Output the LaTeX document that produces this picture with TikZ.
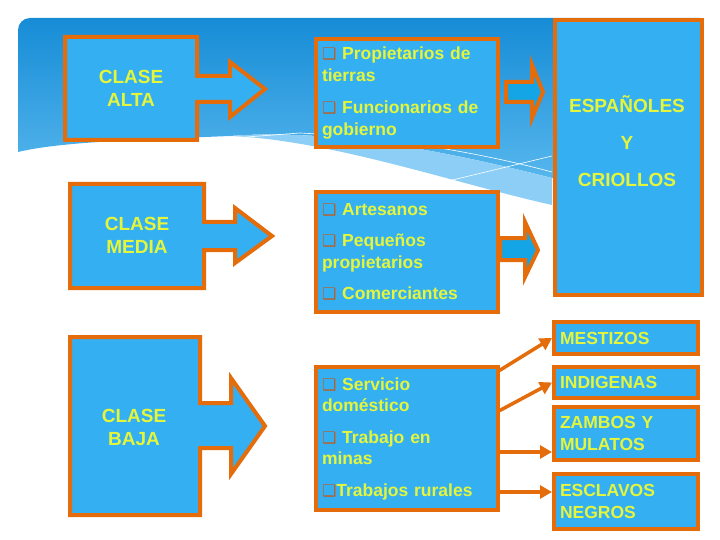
\documentclass[tikz,border=0pt]{standalone}
\usepackage{fontspec}
\setmainfont{Liberation Sans}
\newfontfamily\dvfont{DejaVu Sans}
\usetikzlibrary{arrows.meta,calc}
\definecolor{boxblue}{RGB}{52,176,242}
\definecolor{arrblue}{RGB}{20,165,230}
\definecolor{orangec}{RGB}{228,108,10}
\definecolor{txtc}{RGB}{228,245,60}
\definecolor{bulc}{RGB}{185,95,40}
\definecolor{bgtop}{RGB}{22,140,214}
\definecolor{bgbot}{RGB}{95,188,240}
\definecolor{bglight}{RGB}{140,206,245}
\newcommand{\bul}{{\dvfont\fontsize{16}{16}\selectfont\textcolor{bulc}{❑}}}
\begin{document}
\begin{tikzpicture}[x=1pt,y=-1pt,
  box/.style={draw=orangec, line width=4pt, fill=boxblue},
  outl/.style={draw=orangec, line width=4pt, fill=boxblue, line join=miter},
  lbl/.style={text=txtc, font=\bfseries\fontsize{19}{23}\selectfont, align=center},
  items/.style={box, text=txtc, font=\bfseries\fontsize{17.5}{21.5}\selectfont, align=left, text width=170pt, inner xsep=6pt, inner ysep=0pt, anchor=north west},
  rbox/.style={box, text=txtc, font=\bfseries\fontsize{17.5}{21.5}\selectfont, align=left, text width=132pt, inner xsep=6pt, inner ysep=0pt, minimum width=144pt, anchor=north west},
  conn/.style={draw=orangec, line width=3.5pt, -{Triangle[length=12pt,width=13pt]}}]
\useasboundingbox (0,0) rectangle (720,540);
% background
\shade[top color=bgtop, bottom color=bgbot]
  (18,152) [rounded corners=12pt] -- (18,18) [sharp corners] -- (700,18) -- (700,200) -- (552,178)
  .. controls (450,152) and (330,128) .. (230,136)
  .. controls (130,140) and (60,142) .. (18,152) -- cycle;
\fill[bglight] (230,136) .. controls (330,140) and (450,182) .. (552,205) -- (552,178)
  .. controls (450,152) and (330,128) .. (230,136) -- cycle;
\draw[white, line width=0.6pt] (233,138) -- (300,133) .. controls (380,137) and (470,150) .. (552,172);
\draw[white, line width=0.6pt] (440,183) -- (552,156);
% CLASE ALTA
\path[outl] (65,37) -- (197,37) -- (197,76) -- (230,76) -- (230,62) -- (265,89) -- (230,117) -- (230,102) -- (197,102) -- (197,140) -- (65,140) -- cycle;
\node[lbl] (alta) at (131,88) {CLASE\\ALTA};
% CLASE MEDIA
\path[outl] (70,184) -- (204,184) -- (204,222) -- (235,222) -- (235,208) -- (272,236) -- (235,263) -- (235,250) -- (204,250) -- (204,288) -- (70,288) -- cycle;
\node[lbl] (media) at (137,235) {CLASE\\MEDIA};
% CLASE BAJA
\path[outl] (70,337) -- (200,337) -- (200,403) -- (231,403) -- (231,378) -- (265,426) -- (231,474) -- (231,448) -- (200,448) -- (200,515) -- (70,515) -- cycle;
\node[lbl] (baja) at (134,427) {CLASE\\BAJA};
% item boxes
\node[items, minimum height=108pt] (b1) at (314,37) {\bul\ Propietarios de\\tierras\\[11pt]\bul\ Funcionarios de\\gobierno};
\node[items, minimum height=120pt] (b2) at (314,190) {\bul\ Artesanos\\[10pt]\bul\ Pequeños\\propietarios\\[10pt]\bul\ Comerciantes};
\node[items, minimum height=143pt] (b3) at (314,365) {\bul\ Servicio\\doméstico\\[10pt]\bul\ Trabajo en\\minas\\[10pt]\bul Trabajos rurales};
% small arrows
\path[outl, fill=arrblue] (506,82) -- (532,82) -- (532,65) -- (543,92) -- (532,118) -- (532,102) -- (506,102) -- cycle;
\path[outl, fill=arrblue] (500,238) -- (525,238) -- (525,222) -- (538,250) -- (525,277) -- (525,260) -- (500,260) -- cycle;
% Espanoles
\node[box, minimum width=147pt, minimum height=275pt, anchor=north west, inner sep=0pt] (esp) at (553,18) {};
\node[lbl] (esptxt) at (627,141) {ESPAÑOLES\\[14pt]Y\\[14pt]CRIOLLOS};
% right boxes
\node[rbox, minimum height=32pt] (mest) at (552,320) {MESTIZOS};
\node[rbox, minimum height=31pt] (indi) at (552,365) {INDIGENAS};
\node[rbox, minimum height=53pt] (zamb) at (552,405) {ZAMBOS Y\\MULATOS};
\node[rbox, minimum height=55pt] (escl) at (552,472) {ESCLAVOS\\NEGROS};
% connectors
\coordinate (s1) at (497,372);
\coordinate (s2) at (497,412);
\coordinate (s3) at (497,452);
\coordinate (s4) at (497,492);
\draw[conn] (s1) -- (mest.west);
\draw[conn] (s2) -- (indi.west);
\draw[conn] (s3) -- (zamb.west |- s3);
\draw[conn] (s4) -- (escl.west |- s4);
\end{tikzpicture}
\end{document}
